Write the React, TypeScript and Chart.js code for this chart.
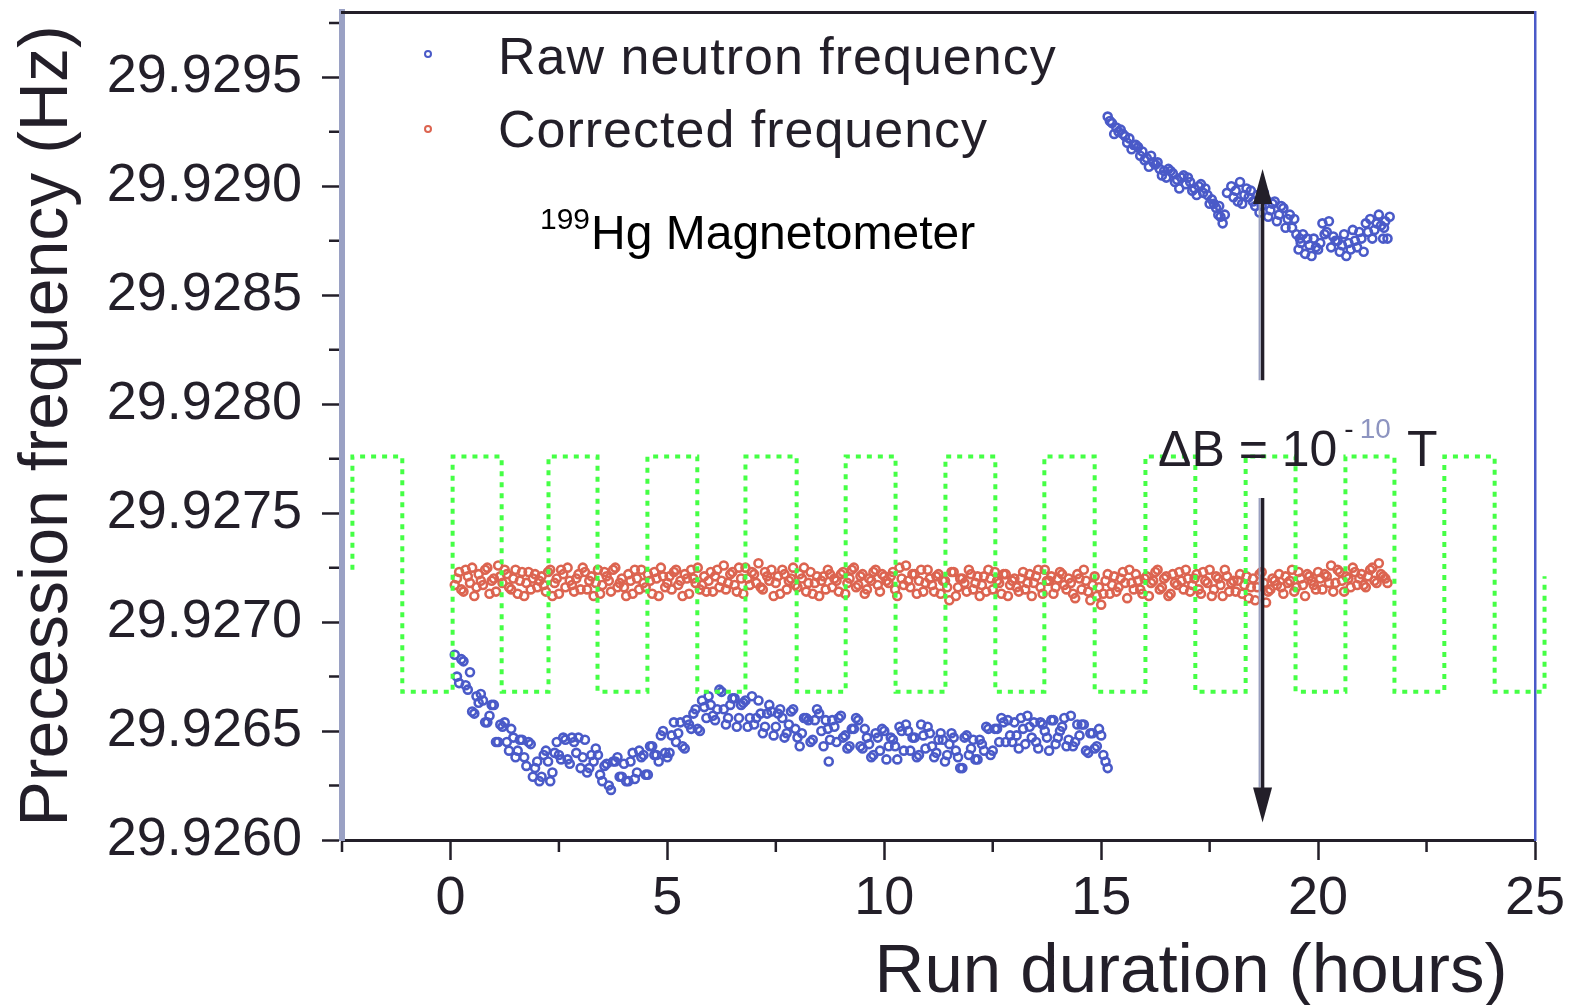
import React, { useEffect, useRef } from 'react';
import { Chart, registerables } from 'chart.js';

Chart.register(...registerables);

const FONT = "'Liberation Sans', Arial, Helvetica, sans-serif";
const DARK = '#231f29';
const BLUE = '#4a5ac8';
const RED = '#dc6450';
const GREEN = '#45ff45';
const AXIS_LEFT = '#9aa1c4';

// ---------- Tick values ----------
const xTickValues = [0, 5, 10, 15, 20, 25];
const xMinorTicks = [-2.5, 2.5, 7.5, 12.5, 17.5, 22.5];
const yTickValues = [29.926, 29.9265, 29.927, 29.9275, 29.928, 29.9285, 29.929, 29.9295];
const yMinorTicks = [29.92625, 29.92675, 29.92725, 29.92775, 29.92825, 29.92875, 29.92925, 29.92975];

// ---------- Legend / annotation labels ----------
const seriesLabels = ['Raw neutron frequency', 'Corrected frequency'];
const magnetometerIsotope = '199';
const magnetometerLabel = 'Hg Magnetometer';
const deltaBLabel = ['\u0394B = 10', '-', '10', 'T'];

// Arrow of the ΔB annotation (hours, Hz)
const arrowHour = 18.72;
const arrowUp = [29.92811, 29.92908];
const arrowDown = [29.92757, 29.92608];

// ---------- Raw neutron frequency (hours) ----------
const rawHours = [
  0.1, 0.15, 0.2, 0.25, 0.3, 0.35, 0.4, 0.45, 0.5, 0.55,
  0.6, 0.65, 0.7, 0.75, 0.8, 0.85, 0.9, 0.95, 1.0, 1.05,
  1.1, 1.15, 1.2, 1.25, 1.3, 1.35, 1.4, 1.45, 1.5, 1.55,
  1.6, 1.65, 1.7, 1.75, 1.8, 1.85, 1.9, 1.95, 2.0, 2.05,
  2.1, 2.15, 2.2, 2.25, 2.3, 2.35, 2.4, 2.45, 2.5, 2.55,
  2.6, 2.65, 2.7, 2.75, 2.8, 2.85, 2.9, 2.95, 3.0, 3.05,
  3.1, 3.15, 3.2, 3.25, 3.3, 3.35, 3.4, 3.45, 3.5, 3.55,
  3.6, 3.65, 3.7, 3.75, 3.8, 3.85, 3.9, 3.95, 4.0, 4.05,
  4.1, 4.15, 4.2, 4.25, 4.3, 4.35, 4.4, 4.45, 4.5, 4.55,
  4.6, 4.65, 4.7, 4.75, 4.8, 4.85, 4.9, 4.95, 5.0, 5.05,
  5.1, 5.15, 5.2, 5.25, 5.3, 5.35, 5.4, 5.45, 5.5, 5.55,
  5.6, 5.65, 5.7, 5.75, 5.8, 5.85, 5.9, 5.95, 6.0, 6.05,
  6.1, 6.15, 6.2, 6.25, 6.3, 6.35, 6.4, 6.45, 6.5, 6.55,
  6.6, 6.65, 6.7, 6.75, 6.8, 6.85, 6.9, 6.95, 7.0, 7.05,
  7.1, 7.15, 7.2, 7.25, 7.3, 7.35, 7.4, 7.45, 7.5, 7.55,
  7.6, 7.65, 7.7, 7.75, 7.8, 7.85, 7.9, 7.95, 8.0, 8.05,
  8.1, 8.15, 8.2, 8.25, 8.3, 8.35, 8.4, 8.45, 8.5, 8.55,
  8.6, 8.65, 8.7, 8.75, 8.8, 8.85, 8.9, 8.95, 9.0, 9.05,
  9.1, 9.15, 9.2, 9.25, 9.3, 9.35, 9.4, 9.45, 9.5, 9.55,
  9.6, 9.65, 9.7, 9.75, 9.8, 9.85, 9.9, 9.95, 10.0, 10.05,
  10.1, 10.15, 10.2, 10.25, 10.3, 10.35, 10.4, 10.45, 10.5, 10.55,
  10.6, 10.65, 10.7, 10.75, 10.8, 10.85, 10.9, 10.95, 11.0, 11.05,
  11.1, 11.15, 11.2, 11.25, 11.3, 11.35, 11.4, 11.45, 11.5, 11.55,
  11.6, 11.65, 11.7, 11.75, 11.8, 11.85, 11.9, 11.95, 12.0, 12.05,
  12.1, 12.15, 12.2, 12.25, 12.3, 12.35, 12.4, 12.45, 12.5, 12.55,
  12.6, 12.65, 12.7, 12.75, 12.8, 12.85, 12.9, 12.95, 13.0, 13.05,
  13.1, 13.15, 13.2, 13.25, 13.3, 13.35, 13.4, 13.45, 13.5, 13.55,
  13.6, 13.65, 13.7, 13.75, 13.8, 13.85, 13.9, 13.95, 14.0, 14.05,
  14.1, 14.15, 14.2, 14.25, 14.3, 14.35, 14.4, 14.45, 14.5, 14.55,
  14.6, 14.65, 14.7, 14.75, 14.8, 14.85, 14.9, 14.95, 15.0, 15.05,
  15.1, 15.15, 8.72,
  15.15, 15.2, 15.25, 15.35, 15.4, 15.45, 15.55, 15.6, 15.65, 15.75,
  15.8, 15.85, 15.95, 16.0, 16.05, 16.15, 16.2, 16.25, 16.35, 16.4,
  16.45, 16.55, 16.6, 16.65, 16.75, 16.8, 16.85, 16.95, 17.0, 17.05,
  17.15, 17.2, 17.25, 17.35, 17.4, 17.45, 17.55, 17.6, 17.65, 17.7,
  17.75, 17.8, 17.85, 18.0, 18.05, 18.1, 18.2, 18.25, 18.3, 18.4,
  18.45, 18.5, 18.6, 18.65, 18.7, 18.8, 18.85, 18.9, 19.0, 19.05,
  19.1, 19.2, 19.25, 19.3, 19.4, 19.45, 19.5, 19.55, 19.6, 19.65,
  19.7, 19.8, 19.85, 19.9, 20.0, 20.05, 20.1, 20.2, 20.25, 20.3,
  20.4, 20.45, 20.5, 20.6, 20.65, 20.7, 20.8, 20.85, 20.9, 21.0,
  21.05, 21.1, 21.2, 21.25, 21.3, 21.4, 21.45, 21.5, 21.55, 21.6,
  21.65,
  15.3, 15.5, 15.7, 15.9, 16.1, 16.3, 16.5, 16.7, 16.9, 17.1,
  17.3, 17.5, 17.72, 17.9, 18.15, 18.35, 18.55, 18.75, 18.95, 19.15,
  19.35, 19.58, 19.75, 19.95, 20.15, 20.35, 20.55, 20.75, 20.95, 21.15,
  21.35, 21.52,
];

// ---------- Raw neutron frequency (Hz) ----------
const rawFreq = [
  29.92685, 29.92675, 29.92672, 29.92683, 29.92682, 29.92671, 29.92669, 29.92677, 29.92659, 29.92658,
  29.92666, 29.92663, 29.92667, 29.92664, 29.92654, 29.92654, 29.92657, 29.92662, 29.92662, 29.92645,
  29.92645, 29.92653, 29.92652, 29.92654, 29.92645, 29.92641, 29.92651, 29.92647, 29.92638, 29.92641,
  29.92646, 29.92646, 29.92638, 29.92634, 29.92645, 29.92644, 29.92629, 29.92633, 29.92636, 29.92627,
  29.92629, 29.92639, 29.92641, 29.92636, 29.92627, 29.92631, 29.9264, 29.92645, 29.92639, 29.92637,
  29.92647, 29.92646, 29.92637, 29.92635, 29.92647, 29.92645, 29.9264, 29.92647, 29.92633, 29.92638,
  29.92646, 29.92631, 29.92633, 29.92639, 29.92636, 29.92642, 29.92639, 29.9263, 29.92627, 29.92634,
  29.92635, 29.92625, 29.92623, 29.92636, 29.92636, 29.92638, 29.92629, 29.92629, 29.92635, 29.92627,
  29.92627, 29.92636, 29.9264, 29.92628, 29.92631, 29.92641, 29.92638, 29.92639, 29.9263, 29.9263,
  29.92643, 29.92643, 29.92639, 29.92639, 29.92636, 29.92648, 29.9265, 29.9264, 29.92638, 29.9264,
  29.92648, 29.92654, 29.92645, 29.92649, 29.92654, 29.92643, 29.92642, 29.92655, 29.92653, 29.92651,
  29.92658, 29.9266, 29.92651, 29.9265, 29.92664, 29.92661, 29.92656, 29.92666, 29.92662, 29.92657,
  29.92655, 29.9266, 29.92669, 29.92668, 29.9266, 29.92653, 29.92656, 29.92662, 29.92665, 29.92665,
  29.92652, 29.92656, 29.92662, 29.92663, 29.92664, 29.92652, 29.92656, 29.92666, 29.92653, 29.92656,
  29.92664, 29.92658, 29.92649, 29.92652, 29.92658, 29.92662, 29.92659, 29.92648, 29.92652, 29.92658,
  29.9266, 29.92656, 29.92647, 29.92649, 29.92653, 29.92659, 29.9266, 29.92651, 29.92647, 29.92643,
  29.92649, 29.92656, 29.92656, 29.92655, 29.92645, 29.92646, 29.92655, 29.9266, 29.92658, 29.9265,
  29.92643, 29.92655, 29.92651, 29.92646, 29.92655, 29.92652, 29.92645, 29.92656, 29.92657, 29.92647,
  29.92648, 29.92642, 29.92643, 29.92651, 29.92651, 29.92656, 29.92655, 29.92643, 29.92642, 29.92651,
  29.92647, 29.92644, 29.92638, 29.92639, 29.92649, 29.92647, 29.92641, 29.92651, 29.9265, 29.92637,
  29.92643, 29.92647, 29.92646, 29.92643, 29.92637, 29.92652, 29.9265, 29.92641, 29.92653, 29.9265,
  29.92641, 29.92647, 29.92647, 29.92638, 29.92639, 29.92653, 29.92648, 29.92642, 29.92652, 29.92649,
  29.92643, 29.92638, 29.9264, 29.92646, 29.92649, 29.92646, 29.92636, 29.92639, 29.92644, 29.92649,
  29.92647, 29.92641, 29.92638, 29.92633, 29.92633, 29.92647, 29.92648, 29.92639, 29.92642, 29.92646,
  29.92637, 29.92637, 29.92646, 29.92644, 29.92641, 29.92652, 29.92651, 29.92639, 29.92641, 29.92651,
  29.92651, 29.92645, 29.92656, 29.92654, 29.92645, 29.92655, 29.92648, 29.92645, 29.92654, 29.92648,
  29.92642, 29.92656, 29.92651, 29.92644, 29.92657, 29.92652, 29.92647, 29.92654, 29.92645, 29.92642,
  29.92654, 29.92653, 29.9265, 29.92647, 29.92641, 29.92655, 29.92655, 29.92644, 29.92647, 29.9265,
  29.92652, 29.92656, 29.92643, 29.92646, 29.92657, 29.92643, 29.92645, 29.92653, 29.92648, 29.92653,
  29.92653, 29.92641, 29.9264, 29.92649, 29.92649, 29.92642, 29.92643, 29.92651, 29.92648, 29.92639,
  29.92636, 29.92633, 29.92636,
  29.92932, 29.9293, 29.92929, 29.92927, 29.92925, 29.92926, 29.92923, 29.9292, 29.92922, 29.92919,
  29.92919, 29.92918, 29.92916, 29.92912, 29.92913, 29.92914, 29.92911, 29.9291, 29.92908, 29.92905,
  29.92907, 29.92908, 29.92907, 29.92906, 29.92903, 29.92899, 29.92904, 29.92901, 29.92904, 29.92902,
  29.92899, 29.92896, 29.929, 29.92897, 29.92899, 29.92896, 29.92894, 29.92892, 29.9289, 29.92887,
  29.92886, 29.92883, 29.92887, 29.929, 29.92895, 29.92898, 29.92902, 29.92892, 29.92896, 29.92895,
  29.92898, 29.92893, 29.92896, 29.92888, 29.92891, 29.92894, 29.92886, 29.92889, 29.92893, 29.92884,
  29.92887, 29.9289, 29.92881, 29.92885, 29.92881, 29.92885, 29.92878, 29.92871, 29.92874, 29.92878,
  29.92869, 29.92873, 29.92868, 29.92876, 29.92871, 29.92874, 29.92883, 29.92879, 29.92884, 29.92872,
  29.92875, 29.92875, 29.9287, 29.92878, 29.92868, 29.92874, 29.9288, 29.92875, 29.92872, 29.92876,
  29.9287, 29.92883, 29.92885, 29.92876, 29.9288, 29.92887, 29.92882, 29.92876, 29.92884, 29.92876,
  29.92886,
  29.92924, 29.92924, 29.92917, 29.92914, 29.92909, 29.92911, 29.92904, 29.92902, 29.92905, 29.92898,
  29.92901, 29.92892, 29.92891, 29.92897, 29.92893, 29.92899, 29.92891, 29.92897, 29.92892, 29.92891,
  29.92887, 29.92876, 29.92876, 29.92872, 29.92878, 29.92877, 29.92873, 29.92871, 29.92879, 29.92879,
  29.92883, 29.92881,
];

// ---------- Corrected frequency ----------
const correctedHours = [
  0.1, 0.2, 0.3, 0.4, 0.5, 0.6, 0.7, 0.8, 0.9, 1.0,
  1.1, 1.2, 1.3, 1.4, 1.5, 1.6, 1.7, 1.8, 1.9, 2.0,
  2.1, 2.2, 2.3, 2.4, 2.5, 2.6, 2.7, 2.8, 2.9, 3.0,
  3.1, 3.2, 3.3, 3.4, 3.5, 3.6, 3.7, 3.8, 3.9, 4.0,
  4.1, 4.2, 4.3, 4.4, 4.5, 4.6, 4.7, 4.8, 4.9, 5.0,
  5.1, 5.2, 5.3, 5.4, 5.5, 5.6, 5.7, 5.8, 5.9, 6.0,
  6.1, 6.2, 6.3, 6.4, 6.5, 6.6, 6.7, 6.8, 6.9, 7.0,
  7.1, 7.2, 7.3, 7.4, 7.5, 7.6, 7.7, 7.8, 7.9, 8.0,
  8.1, 8.2, 8.3, 8.4, 8.5, 8.6, 8.7, 8.8, 8.9, 9.0,
  9.1, 9.2, 9.3, 9.4, 9.5, 9.6, 9.7, 9.8, 9.9, 10.0,
  10.1, 10.2, 10.3, 10.4, 10.5, 10.6, 10.7, 10.8, 10.9, 11.0,
  11.1, 11.2, 11.3, 11.4, 11.5, 11.6, 11.7, 11.8, 11.9, 12.0,
  12.1, 12.2, 12.3, 12.4, 12.5, 12.6, 12.7, 12.8, 12.9, 13.0,
  13.1, 13.2, 13.3, 13.4, 13.5, 13.6, 13.7, 13.8, 13.9, 14.0,
  14.1, 14.2, 14.3, 14.4, 14.5, 14.6, 14.7, 14.8, 14.9, 15.0,
  15.1, 15.2, 15.3, 15.4, 15.5, 15.6, 15.7, 15.8, 15.9, 16.0,
  16.1, 16.2, 16.3, 16.4, 16.5, 16.6, 16.7, 16.8, 16.9, 17.0,
  17.1, 17.2, 17.3, 17.4, 17.5, 17.6, 17.7, 17.8, 17.9, 18.0,
  18.1, 18.2, 18.3, 18.4, 18.5, 18.6, 18.7, 18.8, 18.9, 19.0,
  19.1, 19.2, 19.3, 19.4, 19.5, 19.6, 19.7, 19.8, 19.9, 20.0,
  20.1, 20.2, 20.3, 20.4, 20.5, 20.6, 20.7, 20.8, 20.9, 21.0,
  21.1, 21.2, 21.3, 21.4, 21.5, 21.6,
  0.15, 0.25, 0.35, 0.45, 0.55, 0.65, 0.75, 0.85, 0.95, 1.05,
  1.15, 1.25, 1.35, 1.45, 1.55, 1.65, 1.75, 1.85, 1.95, 2.05,
  2.15, 2.25, 2.35, 2.45, 2.55, 2.65, 2.75, 2.85, 2.95, 3.05,
  3.15, 3.25, 3.35, 3.45, 3.55, 3.65, 3.75, 3.85, 3.95, 4.05,
  4.15, 4.25, 4.35, 4.45, 4.55, 4.65, 4.75, 4.85, 4.95, 5.05,
  5.15, 5.25, 5.35, 5.45, 5.55, 5.65, 5.75, 5.85, 5.95, 6.05,
  6.15, 6.25, 6.35, 6.45, 6.55, 6.65, 6.75, 6.85, 6.95, 7.05,
  7.15, 7.25, 7.35, 7.45, 7.55, 7.65, 7.75, 7.85, 7.95, 8.05,
  8.15, 8.25, 8.35, 8.45, 8.55, 8.65, 8.75, 8.85, 8.95, 9.05,
  9.15, 9.25, 9.35, 9.45, 9.55, 9.65, 9.75, 9.85, 9.95, 10.05,
  10.15, 10.25, 10.35, 10.45, 10.55, 10.65, 10.75, 10.85, 10.95, 11.05,
  11.15, 11.25, 11.35, 11.45, 11.55, 11.65, 11.75, 11.85, 11.95, 12.05,
  12.15, 12.25, 12.35, 12.45, 12.55, 12.65, 12.75, 12.85, 12.95, 13.05,
  13.15, 13.25, 13.35, 13.45, 13.55, 13.65, 13.75, 13.85, 13.95, 14.05,
  14.15, 14.25, 14.35, 14.45, 14.55, 14.65, 14.75, 14.85, 14.95, 15.05,
  15.15, 15.25, 15.35, 15.45, 15.55, 15.65, 15.75, 15.85, 15.95, 16.05,
  16.15, 16.25, 16.35, 16.45, 16.55, 16.65, 16.75, 16.85, 16.95, 17.05,
  17.15, 17.25, 17.35, 17.45, 17.55, 17.65, 17.75, 17.85, 17.95, 18.05,
  18.15, 18.25, 18.35, 18.45, 18.55, 18.65, 18.75, 18.85, 18.95, 19.05,
  19.15, 19.25, 19.35, 19.45, 19.55, 19.65, 19.75, 19.85, 19.95, 20.05,
  20.15, 20.25, 20.35, 20.45, 20.55, 20.65, 20.75, 20.85, 20.95, 21.05,
  21.15, 21.25, 21.35, 21.45, 21.55,
];

const correctedFreq = [
  29.92717, 29.92723, 29.92714, 29.92721, 29.92725, 29.92716, 29.92719, 29.92724, 29.92713, 29.9272,
  29.92726, 29.92718, 29.92722, 29.92715, 29.92724, 29.92719, 29.92712, 29.92723, 29.9272, 29.92716,
  29.92721, 29.92714, 29.92724, 29.92718, 29.92713, 29.92722, 29.92725, 29.92717, 29.9272, 29.92715,
  29.92723, 29.92719, 29.92712, 29.92724, 29.92717, 29.92721, 29.92714, 29.92725, 29.92718, 29.92716,
  29.92722, 29.92713, 29.9272, 29.92724, 29.92716, 29.92719, 29.92723, 29.92712, 29.92721, 29.92718,
  29.92715, 29.92724, 29.92719, 29.92722, 29.92713, 29.9272, 29.92725, 29.92717, 29.92714, 29.92723,
  29.92721, 29.92716, 29.92726, 29.92718, 29.92723, 29.92714, 29.9272, 29.92725, 29.92717, 29.92722,
  29.92727, 29.92715, 29.92721, 29.92724, 29.92718, 29.92713, 29.92722, 29.92719, 29.92725, 29.92716,
  29.9272, 29.92714, 29.92723, 29.92718, 29.92712, 29.92721, 29.92724, 29.92716, 29.92719, 29.92722,
  29.92713, 29.9272, 29.92725, 29.92717, 29.92722, 29.92715, 29.92719, 29.92724, 29.92714, 29.92721,
  29.92718, 29.92723, 29.92712, 29.9272, 29.92726, 29.92716, 29.92722, 29.92719, 29.92714, 29.92724,
  29.92717, 29.92721, 29.92713, 29.92719, 29.9271, 29.92723, 29.92716, 29.9272, 29.92714, 29.92722,
  29.92718, 29.92712, 29.92721, 29.92724, 29.92715, 29.92719, 29.92713, 29.92722, 29.92717, 29.9272,
  29.92714, 29.92723, 29.92718, 29.92712, 29.92721, 29.92716, 29.92724, 29.92719, 29.92713, 29.9272,
  29.92722, 29.92715, 29.92718, 29.92711, 29.9272, 29.92724, 29.92714, 29.92717, 29.92712, 29.92708,
  29.92719, 29.92713, 29.92721, 29.92716, 29.92723, 29.92711, 29.92718, 29.92722, 29.92715, 29.9272,
  29.92712, 29.92719, 29.92724, 29.92716, 29.92721, 29.92713, 29.92718, 29.92723, 29.92715, 29.9272,
  29.92717, 29.92722, 29.92713, 29.92719, 29.92724, 29.92715, 29.9272, 29.92712, 29.92721, 29.92718,
  29.92714, 29.92722, 29.92717, 29.92711, 29.9272, 29.92716, 29.92723, 29.92709, 29.92715, 29.92719,
  29.92722, 29.92713, 29.92718, 29.92724, 29.92716, 29.9272, 29.92712, 29.92721, 29.92717, 29.92723,
  29.92715, 29.92721, 29.92726, 29.92718, 29.92723, 29.92714, 29.9272, 29.92725, 29.92717, 29.92722,
  29.92716, 29.92724, 29.92719, 29.92727, 29.92721, 29.92718,
  29.9272, 29.92715, 29.92724, 29.92718, 29.92712, 29.92722, 29.92717, 29.92725, 29.92719, 29.92714,
  29.92721, 29.92724, 29.92716, 29.9272, 29.92713, 29.92723, 29.92718, 29.92715, 29.92722, 29.92719,
  29.92717, 29.92723, 29.92712, 29.9272, 29.92724, 29.92716, 29.92719, 29.92714, 29.92722, 29.92725,
  29.92715, 29.92721, 29.92718, 29.92713, 29.92723, 29.92719, 29.92724, 29.92716, 29.9272, 29.92712,
  29.92719, 29.92724, 29.92715, 29.92718, 29.92722, 29.92713, 29.9272, 29.92725, 29.92716, 29.92721,
  29.92723, 29.92717, 29.92712, 29.9272, 29.92724, 29.92718, 29.92715, 29.92721, 29.92719, 29.92714,
  29.92724, 29.92719, 29.92715, 29.92722, 29.92717, 29.92725, 29.92713, 29.9272, 29.92723, 29.92718,
  29.92716, 29.92723, 29.92719, 29.92712, 29.92721, 29.92724, 29.92715, 29.9272, 29.92717, 29.92722,
  29.92725, 29.92718, 29.92713, 29.92721, 29.92719, 29.92715, 29.92722, 29.9272, 29.92714, 29.92723,
  29.92718, 29.92724, 29.92716, 29.92721, 29.92713, 29.9272, 29.92723, 29.92717, 29.92722, 29.92719,
  29.92721, 29.92715, 29.92725, 29.92717, 29.92719, 29.92722, 29.92713, 29.92724, 29.92718, 29.9272,
  29.92714, 29.92722, 29.92719, 29.92716, 29.92723, 29.92712, 29.9272, 29.92718, 29.92724, 29.92715,
  29.92721, 29.92717, 29.92714, 29.9272, 29.92723, 29.92718, 29.92722, 29.92712, 29.92719, 29.92716,
  29.9272, 29.92715, 29.92722, 29.92718, 29.92724, 29.92713, 29.92719, 29.92721, 29.92716, 29.92723,
  29.92717, 29.9272, 29.92713, 29.92722, 29.92715, 29.92719, 29.9271, 29.92721, 29.92716, 29.92713,
  29.92722, 29.92717, 29.92714, 29.9272, 29.92718, 29.92724, 29.92715, 29.92719, 29.92713, 29.92721,
  29.92718, 29.92723, 29.92715, 29.9272, 29.92712, 29.92722, 29.92717, 29.92719, 29.92724, 29.92714,
  29.9272, 29.92715, 29.92723, 29.92718, 29.92712, 29.92721, 29.92717, 29.92724, 29.92714, 29.92719,
  29.92719, 29.92713, 29.92721, 29.92716, 29.9271, 29.92722, 29.92718, 29.92714, 29.9272, 29.92717,
  29.92716, 29.92721, 29.92719, 29.92714, 29.92723, 29.92717, 29.92722, 29.92719, 29.92715, 29.9272,
  29.92722, 29.92718, 29.92714, 29.92724, 29.92719, 29.92721, 29.92716, 29.92723, 29.9272, 29.92717,
  29.92721, 29.92725, 29.92718, 29.92722, 29.9272,
];

// ---------- Square-wave field steps (hours, Hz level at start of each step) ----------
const fieldStepHours = [
  -2.26, -2.26, -1.11, 0.05, 1.18, 2.26, 3.39, 4.54, 5.69, 6.8,
  7.98, 9.11, 10.26, 11.41, 12.56, 13.69, 14.85, 16.02, 17.17, 18.33,
  19.48, 20.63, 21.76, 22.91, 24.07, 25.22,
];
const fieldStepLevels = [
  29.92724, 29.92776, 29.92668, 29.92776, 29.92668, 29.92776, 29.92668, 29.92776, 29.92668, 29.92776,
  29.92668, 29.92776, 29.92668, 29.92776, 29.92668, 29.92776, 29.92668, 29.92776, 29.92668, 29.92776,
  29.92668, 29.92776, 29.92668, 29.92776, 29.92668, 29.92721,
];

const toPoints = (xs: number[], ys: number[]) => xs.map((x, i) => ({ x, y: ys[i] }));

const overlayPlugin = {
  id: 'overlay',
  afterDraw(chart: any) {
    const { ctx, scales } = chart;
    const xs = scales.x;
    const ys = scales.y;
    ctx.save();

    // minor tick marks
    ctx.strokeStyle = DARK;
    ctx.lineWidth = 2.5;
    ctx.beginPath();
    for (const v of xMinorTicks) {
      const px = xs.getPixelForValue(v);
      ctx.moveTo(px, xs.top + 1.5);
      ctx.lineTo(px, xs.top + 12);
    }
    for (const v of yMinorTicks) {
      const py = ys.getPixelForValue(v);
      ctx.moveTo(ys.right - 3, py);
      ctx.lineTo(ys.right - 13, py);
    }
    ctx.stroke();

    // legend
    const legendColors = [BLUE, RED];
    const legendBaselines = [74, 147];
    const markerY = [54, 129];
    for (let i = 0; i < seriesLabels.length; i++) {
      ctx.beginPath();
      ctx.strokeStyle = legendColors[i];
      ctx.lineWidth = 2;
      ctx.arc(428, markerY[i], 3, 0, Math.PI * 2);
      ctx.stroke();
      ctx.fillStyle = DARK;
      ctx.font = `52px ${FONT}`;
      ctx.textAlign = 'left';
      ctx.textBaseline = 'alphabetic';
      (ctx as any).letterSpacing = '1px';
      ctx.fillText(seriesLabels[i], 498, legendBaselines[i]);
      (ctx as any).letterSpacing = '0px';
    }

    // 199Hg Magnetometer
    ctx.fillStyle = '#000';
    ctx.textAlign = 'left';
    ctx.textBaseline = 'alphabetic';
    ctx.font = `30px ${FONT}`;
    ctx.fillText(magnetometerIsotope, 540, 229);
    const isoW = ctx.measureText(magnetometerIsotope).width;
    ctx.font = `48px ${FONT}`;
    ctx.fillText(magnetometerLabel, 540 + isoW + 1, 249);

    // ΔB = 10^-10 T
    ctx.fillStyle = DARK;
    ctx.font = `50px ${FONT}`;
    ctx.fillText(deltaBLabel[0], 1158, 466);
    const w0 = ctx.measureText(deltaBLabel[0]).width;
    ctx.font = `28px ${FONT}`;
    ctx.fillText(deltaBLabel[1], 1158 + w0 + 7, 438);
    const w1 = ctx.measureText(deltaBLabel[1]).width;
    ctx.fillStyle = '#8d94c0';
    ctx.fillText(deltaBLabel[2], 1158 + w0 + 7 + w1 + 6, 438);
    ctx.fillStyle = DARK;
    ctx.font = `50px ${FONT}`;
    ctx.fillText(deltaBLabel[3], 1407, 466);

    // arrows
    const ax = xs.getPixelForValue(arrowHour);
    const drawArrow = (fromV: number, toV: number) => {
      const y0 = ys.getPixelForValue(fromV);
      const y1 = ys.getPixelForValue(toV);
      const dir = Math.sign(y1 - y0);
      const headLen = 35;
      const headHalf = 9.5;
      ctx.strokeStyle = '#9aa0c0';
      ctx.lineWidth = 2;
      ctx.beginPath();
      ctx.moveTo(ax - 3, y0);
      ctx.lineTo(ax - 3, y1 - dir * headLen);
      ctx.stroke();
      ctx.strokeStyle = DARK;
      ctx.lineWidth = 3.5;
      ctx.beginPath();
      ctx.moveTo(ax, y0);
      ctx.lineTo(ax, y1 - dir * headLen + dir * 2);
      ctx.stroke();
      ctx.fillStyle = DARK;
      ctx.beginPath();
      ctx.moveTo(ax, y1);
      ctx.lineTo(ax - headHalf, y1 - dir * headLen);
      ctx.lineTo(ax + headHalf, y1 - dir * headLen);
      ctx.closePath();
      ctx.fill();
    };
    drawArrow(arrowUp[0], arrowUp[1]);
    drawArrow(arrowDown[0], arrowDown[1]);

    ctx.restore();
  },
};

export default function App() {
  const canvasRef = useRef<HTMLCanvasElement>(null);

  useEffect(() => {
    const canvas = canvasRef.current;
    if (!canvas) return;
    Chart.defaults.font.family = FONT;

    const tickFont = { family: FONT, size: 54 };

    const chart = new Chart(canvas, {
      type: 'scatter',
      data: {
        datasets: [
          {
            label: 'Field steps',
            data: toPoints(fieldStepHours, fieldStepLevels),
            showLine: true,
            stepped: 'before',
            borderColor: GREEN,
            borderWidth: 4,
            borderDash: [5, 6],
            pointRadius: 0,
            fill: false,
            clip: 20,
            order: 0,
          } as any,
          {
            label: seriesLabels[0],
            data: toPoints(rawHours, rawFreq),
            pointRadius: 4,
            pointBorderWidth: 2.6,
            pointBorderColor: BLUE,
            pointBackgroundColor: 'rgba(255,255,255,0)',
            order: 1,
          },
          {
            label: seriesLabels[1],
            data: toPoints(correctedHours, correctedFreq),
            pointRadius: 4,
            pointBorderWidth: 2.6,
            pointBorderColor: RED,
            pointBackgroundColor: 'rgba(255,255,255,0)',
            order: 2,
          },
        ],
      },
      options: {
        responsive: false,
        animation: false,
        devicePixelRatio: 1,
        events: [],
        layout: { padding: { left: 0, top: 12, right: 35, bottom: 0 } },
        plugins: {
          legend: { display: false },
          tooltip: { enabled: false },
        },
        scales: {
          x: {
            type: 'linear',
            position: 'bottom',
            min: -2.5,
            max: 25,
            afterBuildTicks: (axis: any) => {
              axis.ticks = xTickValues.map((v) => ({ value: v }));
            },
            afterFit: (axis: any) => {
              axis.height = 165;
              axis.paddingLeft = 0;
              axis.paddingRight = 0;
            },
            grid: {
              display: true,
              drawOnChartArea: false,
              drawTicks: true,
              tickLength: 20,
              tickColor: DARK,
              tickWidth: 2.5,
            },
            border: { display: true, color: DARK, width: 3 },
            ticks: {
              color: DARK,
              font: tickFont,
              padding: 7,
              maxRotation: 0,
              autoSkip: false,
              callback: (v: any) => String(v),
            },
            title: {
              display: true,
              text: 'Run duration (hours)\u2009\u2009',
              align: 'end',
              color: DARK,
              font: { family: FONT, size: 69, lineHeight: 0.92 },
              padding: { top: 0, bottom: 0 },
            },
          },
          y: {
            type: 'linear',
            position: 'left',
            min: 29.926,
            max: 29.9298,
            afterBuildTicks: (axis: any) => {
              axis.ticks = yTickValues.map((v) => ({ value: v }));
            },
            afterFit: (axis: any) => {
              axis.width = 342;
              axis.paddingTop = 0;
              axis.paddingBottom = 0;
            },
            grid: {
              display: true,
              drawOnChartArea: false,
              drawTicks: true,
              tickLength: 20,
              tickColor: DARK,
              tickWidth: 2.5,
            },
            border: { display: true, color: AXIS_LEFT, width: 6 },
            ticks: {
              color: DARK,
              font: tickFont,
              padding: 20,
              autoSkip: false,
              callback: (v: any) => Number(v).toFixed(4),
            },
            title: {
              display: true,
              text: 'Precession frequency (Hz)',
              color: DARK,
              font: { family: FONT, size: 68, lineHeight: 1.2 },
              padding: { top: 7, bottom: 0 },
            },
          },
          xTop: {
            type: 'linear',
            position: 'top',
            min: -2.5,
            max: 25,
            afterFit: (axis: any) => {
              axis.height = 0;
              axis.paddingLeft = 0;
              axis.paddingRight = 0;
            },
            grid: { display: true, drawOnChartArea: false, drawTicks: false },
            border: { display: true, color: DARK, width: 3 },
            ticks: { display: false },
          },
          yRight: {
            type: 'linear',
            position: 'right',
            afterFit: (axis: any) => {
              axis.width = 0;
              axis.paddingTop = 0;
              axis.paddingBottom = 0;
            },
            grid: { display: true, drawOnChartArea: false, drawTicks: false },
            border: { display: true, color: BLUE, width: 2.5 },
            ticks: { display: false },
          },
        } as any,
      },
      plugins: [overlayPlugin],
    } as any);

    return () => chart.destroy();
  }, []);

  return (
    <div style={{ position: 'fixed', left: 0, top: 0, width: 1570, height: 1005, background: '#ffffff' }}>
      <canvas ref={canvasRef} width={1570} height={1005} style={{ display: 'block', width: 1570, height: 1005 }} />
    </div>
  );
}
